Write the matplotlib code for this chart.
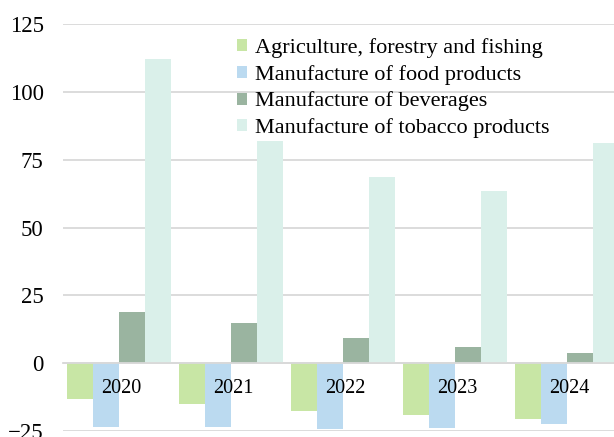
import numpy as np
import matplotlib
matplotlib.use("Agg")
import matplotlib.pyplot as plt

# data
years = ["2020", "2021", "2022", "2023", "2024"]
series_names = [
    "Agriculture, forestry and fishing",
    "Manufacture of food products",
    "Manufacture of beverages",
    "Manufacture of tobacco products",
]
agriculture = [-13.2, -15.2, -17.8, -19.1, -20.6]
food = [-23.4, -23.6, -24.3, -23.8, -22.3]
beverages = [18.9, 14.9, 9.2, 5.9, 3.6]
tobacco = [112.2, 82.0, 68.5, 63.3, 81.1]

colors = ["#C8E6A5", "#BBDAF0", "#9AB4A0", "#DAF0EA"]
series = [agriculture, food, beverages, tobacco]

plt.rcParams["font.family"] = ["Liberation Serif", "DejaVu Serif"]

W, H = 614, 437
fig = plt.figure(figsize=(W / 100, H / 100), dpi=100)
# axes runs past the right edge, like the cropped original
ax = fig.add_axes([63 / W, 1 - 431 / H, 560 / W, (431 - 24) / H])

x = np.arange(len(years))
bar_w = 26 / 112
offsets = (np.arange(4) - 1.5) * bar_w
for vals, off, col, name in zip(series, offsets, colors, series_names):
    ax.bar(x + off, vals, width=bar_w, color=col, label=name, zorder=2)

ax.set_xlim(-0.5, len(years) - 0.5)
ax.set_ylim(-25, 125)
ax.set_yticks(np.arange(-25, 126, 25))
ax.yaxis.grid(True, color="#D9D9D9", linewidth=1.3, zorder=0)
ax.set_axisbelow(True)

for s in ["top", "right", "left"]:
    ax.spines[s].set_visible(False)
ax.spines["bottom"].set_position(("data", 0))
ax.spines["bottom"].set_color("#D9D9D9")
ax.spines["bottom"].set_linewidth(1.3)

# year labels sit on top of the bars, just under the zero line
ax.set_xticks([])
for xi, yr in zip(x, years):
    ax.text(xi + 0.02, -9.2, yr, ha="center", va="center", fontsize=14.5, zorder=5)

ax.tick_params(axis="y", length=0, pad=14, labelsize=16.4)

ax.legend(
    loc="upper left",
    bbox_to_anchor=(237 / W, 1 - 38 / H),
    bbox_transform=fig.transFigure,
    frameon=False,
    fontsize=16,
    borderpad=0,
    borderaxespad=0,
    handlelength=0.45,
    handleheight=0.45,
    handletextpad=0.35,
    labelspacing=0.31,
)

fig.savefig("out.png", dpi=100)
